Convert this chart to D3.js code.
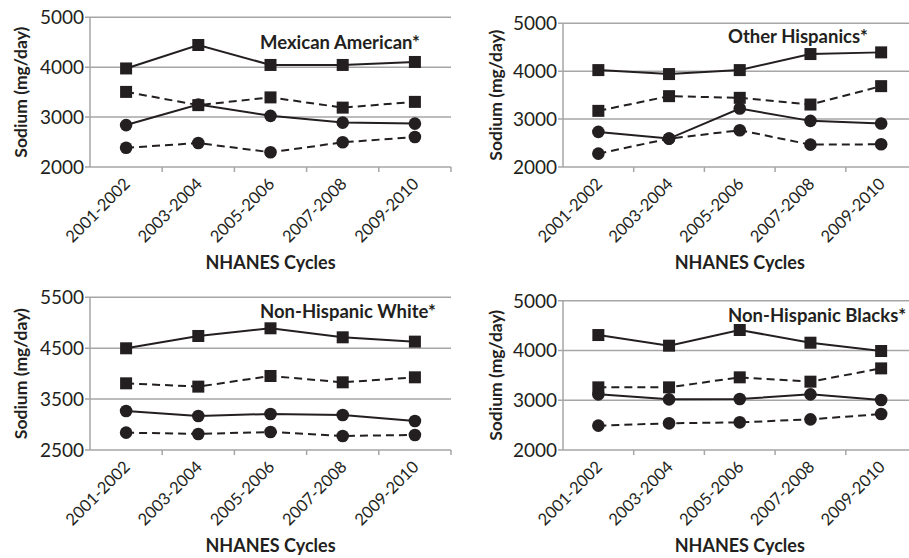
<!DOCTYPE html>
<html><head><meta charset="utf-8">
<script src="https://cdn.jsdelivr.net/npm/d3@7"></script>
<style>body{margin:0;background:#fff} svg{display:block}</style>
</head><body><svg id="c" width="909" height="558"></svg>
<script>
// ---- data ----
const cycles = ["2001-2002","2003-2004","2005-2006","2007-2008","2009-2010"];

const yTicksA = [2000,3000,4000,5000];
const yTicksWhite = [2500,3500,4500,5500];

const mexSolidSquare  = [3975,4445,4045,4045,4105];
const mexDashedSquare = [3505,3240,3395,3190,3305];
const mexSolidCircle  = [2840,3250,3025,2890,2870];
const mexDashedCircle = [2385,2480,2295,2495,2600];

const othSolidSquare  = [4023,3940,4023,4358,4393];
const othDashedSquare = [3172,3479,3444,3304,3688];
const othSolidCircle  = [2733,2593,3221,2963,2907];
const othDashedCircle = [2279,2593,2767,2467,2474];

const whtSolidSquare  = [4498,4740,4891,4714,4629];
const whtDashedSquare = [3810,3745,3954,3830,3928];
const whtSolidCircle  = [3267,3169,3208,3188,3070];
const whtDashedCircle = [2841,2815,2854,2776,2795];

const blkSolidSquare  = [4310,4096,4411,4156,3989];
const blkDashedSquare = [3259,3259,3460,3373,3640];
const blkSolidCircle  = [3118,3018,3025,3118,3004];
const blkDashedCircle = [2489,2536,2556,2616,2723];

// ---- layout ----
const panels = [
  {title:"Mexican American*", ticks:yTicksA, x0:90, x1:451, y0:17.3, y1:167, tx:260, ty:49, ytx:21,
   series:[mexSolidSquare,mexDashedSquare,mexSolidCircle,mexDashedCircle]},
  {title:"Other Hispanics*", ticks:yTicksA, x0:563, x1:916.5, y0:23.3, y1:167, tx:728, ty:43, ytx:496,
   series:[othSolidSquare,othDashedSquare,othSolidCircle,othDashedCircle]},
  {title:"Non-Hispanic White*", ticks:yTicksWhite, x0:90, x1:451, y0:297.3, y1:450, tx:260, ty:318, ytx:21,
   series:[whtSolidSquare,whtDashedSquare,whtSolidCircle,whtDashedCircle]},
  {title:"Non-Hispanic Blacks*", ticks:yTicksA, x0:563, x1:916.5, y0:300.7, y1:450, tx:728, ty:322, ytx:496,
   series:[blkSolidSquare,blkDashedSquare,blkSolidCircle,blkDashedCircle]}
];
const styles = [
  {dash:null, shape:"square"},
  {dash:"8,5", shape:"square"},
  {dash:null, shape:"circle"},
  {dash:"8,5", shape:"circle"}
];
const ink = "#231f20", grid = "#a6a6a6";
const svg = d3.select("#c");
const font = "Lato, 'Open Sans', sans-serif";

panels.forEach(p => {
  const g = svg.append("g");
  const x = d3.scaleBand().domain(cycles).range([p.x0, p.x1]);
  const y = d3.scaleLinear().domain([p.ticks[0], p.ticks[p.ticks.length-1]]).range([p.y1, p.y0]);
  const cx = c => x(c) + x.bandwidth()/2;

  // gridlines
  g.selectAll(".grid").data(p.ticks.slice(1)).join("line")
    .attr("x1", p.x0 - 5).attr("x2", p.x1).attr("y1", d => y(d)).attr("y2", d => y(d))
    .attr("stroke", grid).attr("stroke-width", 1.5);
  // y axis
  g.append("line").attr("x1", p.x0).attr("x2", p.x0).attr("y1", y(p.ticks[p.ticks.length-1])).attr("y2", p.y1)
    .attr("stroke", grid).attr("stroke-width", 1.5);
  // x axis
  g.append("line").attr("x1", p.x0 - 5).attr("x2", p.x1).attr("y1", p.y1).attr("y2", p.y1)
    .attr("stroke", grid).attr("stroke-width", 1.5);
  const bounds = cycles.map(c => x(c)).concat([p.x1]).slice(1);
  g.selectAll(".xt").data(bounds).join("line")
    .attr("x1", d => d).attr("x2", d => d).attr("y1", p.y1).attr("y2", p.y1 + 5)
    .attr("stroke", grid).attr("stroke-width", 1.5);

  // y tick labels
  g.selectAll(".yl").data(p.ticks).join("text")
    .attr("x", p.x0 - 6).attr("y", d => y(d)).attr("dy", "0.36em")
    .attr("text-anchor", "end").attr("font-family", font).attr("font-size", 19)
    .attr("fill", ink).text(d => d);
  // x tick labels
  g.selectAll(".xl").data(cycles).join("text")
    .attr("transform", d => `translate(${cx(d)+5},${p.y1+18}) rotate(-45)`)
    .attr("text-anchor", "end").attr("font-family", font).attr("font-size", 16.5)
    .attr("fill", ink).text(d => d);

  // axis titles
  g.append("text").attr("transform", `translate(${p.ytx + 6},${(p.y0 + p.y1)/2}) rotate(-90)`)
    .attr("text-anchor", "middle").attr("font-family", font).attr("font-weight", "bold")
    .attr("font-size", 17.5).attr("fill", ink).text("Sodium (mg/day)");
  g.append("text").attr("x", (p.x0 + p.x1)/2).attr("y", p.y1 + 102)
    .attr("text-anchor", "middle").attr("font-family", font).attr("font-weight", "bold")
    .attr("font-size", 18).attr("fill", ink).text("NHANES Cycles");
  // panel title
  g.append("text").attr("x", p.tx).attr("y", p.ty)
    .attr("font-family", font).attr("font-weight", "bold")
    .attr("font-size", 18.5).attr("fill", ink).text(p.title);

  // series
  const line = d3.line().x((d,i) => cx(cycles[i])).y(d => y(d));
  p.series.forEach((vals, si) => {
    const st = styles[si];
    g.append("path").attr("d", line(vals)).attr("fill", "none")
      .attr("stroke", ink).attr("stroke-width", 2)
      .attr("stroke-dasharray", st.dash);
    if (st.shape === "square") {
      g.selectAll(null).data(vals).join("rect")
        .attr("x", (d,i) => cx(cycles[i]) - 6).attr("y", d => y(d) - 6)
        .attr("width", 12).attr("height", 12).attr("fill", ink);
    } else {
      g.selectAll(null).data(vals).join("circle")
        .attr("cx", (d,i) => cx(cycles[i])).attr("cy", d => y(d)).attr("r", 6.3).attr("fill", ink);
    }
  });
});
</script></body></html>
